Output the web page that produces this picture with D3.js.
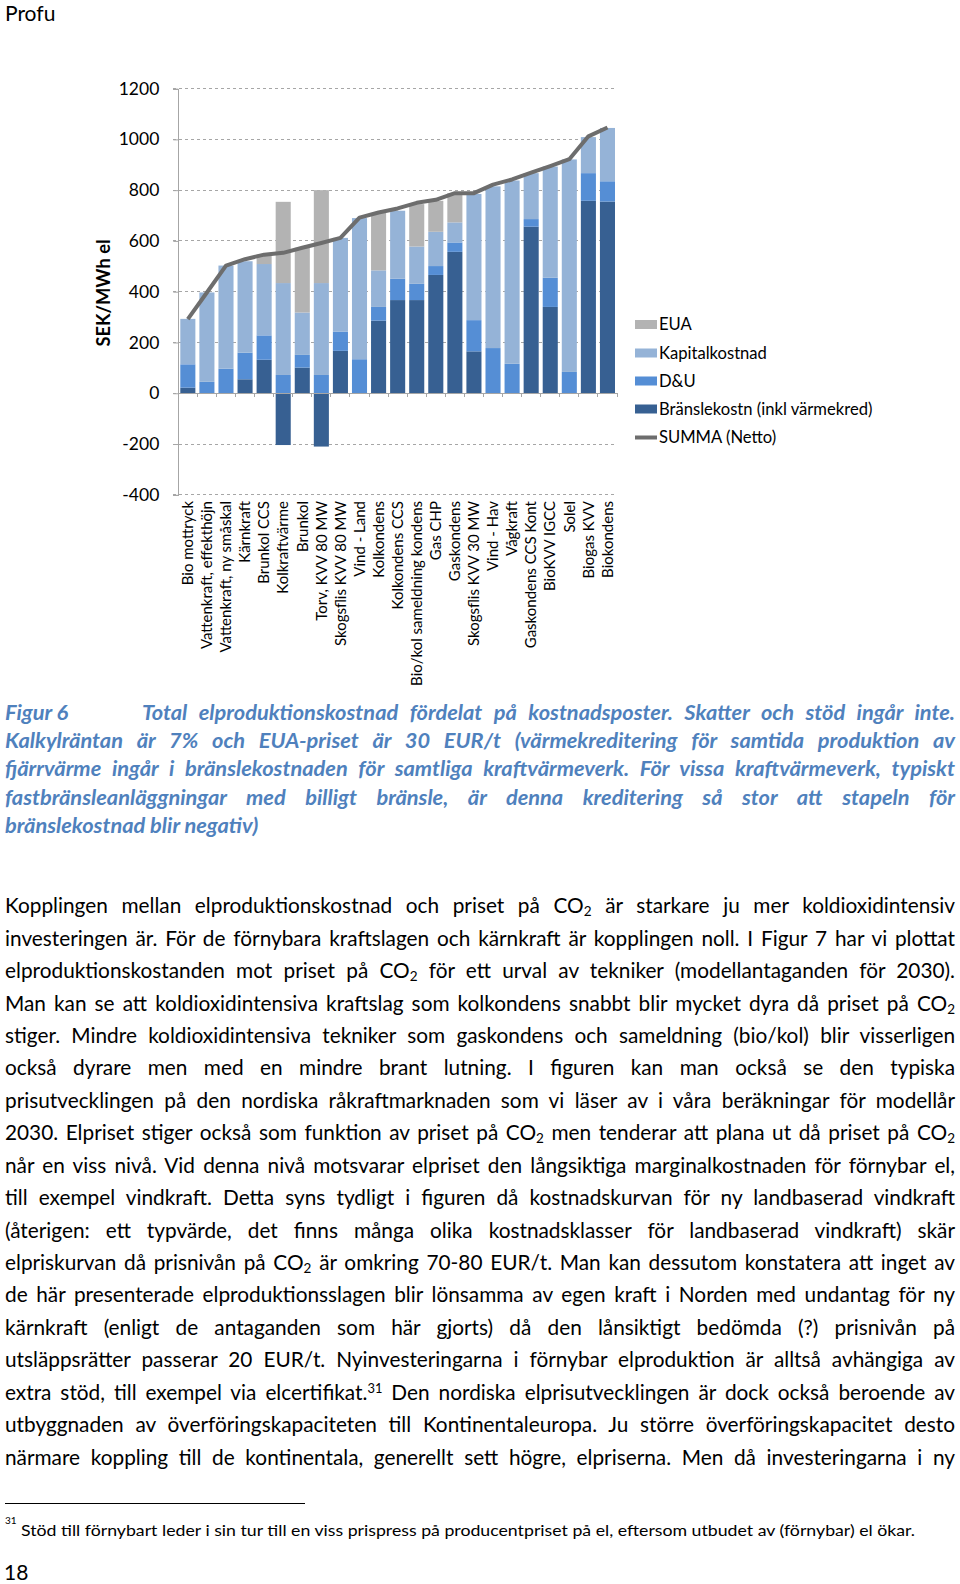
<!DOCTYPE html>
<html><head><meta charset="utf-8">
<script src="https://cdn.jsdelivr.net/npm/d3@7"></script>
<style>
html,body{margin:0;padding:0;background:#fff;}
body{width:960px;height:1584px;position:relative;overflow:hidden;font-family:Lato,"Open Sans",sans-serif;}
.abs{position:absolute;}
.jl{text-align:justify;text-align-last:justify;}
.cap{color:#4f81bd;font-weight:bold;font-style:italic;font-size:21.8px;line-height:28.05px;}
.body{color:#000;font-size:20.8px;line-height:32.45px;}
sub{font-size:0.65em;line-height:0;vertical-align:-0.25em;}
sup{font-size:0.62em;line-height:0;vertical-align:0.55em;}
</style></head>
<body>
<div class="abs" style="left:5px;top:0px;font-size:21px;line-height:26px;">Profu</div>
<svg id="chart" class="abs" style="left:0;top:0" width="960" height="700"></svg>
<div id="caption" class="abs cap" style="left:5px;top:698.4px;width:950px;"></div>
<div id="bodytext" class="abs body" style="left:5px;top:889.2px;width:950px;"></div>
<div class="abs" style="left:5px;top:1502.5px;width:300px;height:1px;background:#000;"></div>
<svg id="foot" class="abs" style="left:0;top:1510px" width="960" height="74"></svg>
<script>
// ---------------- data ----------------
const categories = ["Bio mottryck","Vattenkraft, effekthöjn","Vattenkraft, ny småskal","Kärnkraft","Brunkol CCS","Kolkraftvärme","Brunkol","Torv, KVV 80 MW","Skogsflis KVV 80 MW","Vind - Land","Kolkondens","Kolkondens CCS","Bio/kol sameldning kondens","Gas CHP","Gaskondens","Skogsflis KVV 30 MW","Vind - Hav","Vågkraft","Gaskondens CCS Kont","BioKVV IGCC","Solel","Biogas KVV","Biokondens"];
const bransle = [22, 0, 0, 55, 132, -204, 101, -210, 167, 0, 286, 367, 367, 466, 557, 165, 0, 0, 656, 340, 0, 758, 755];
const du = [92, 45, 97, 105, 96, 72, 50, 72, 76, 134, 54, 84, 64, 35, 37, 123, 178, 116, 30, 115, 84, 109, 80];
const kapital = [179, 352, 406, 360, 281, 362, 167, 362, 369, 556, 144, 268, 147, 135, 79, 497, 637, 722, 181, 438, 837, 142, 210];
const eua = [0, 0, 0, 0, 37, 320, 255, 366, 0, 0, 226, 0, 167, 122, 115, 0, 0, 0, 0, 0, 0, 0, 0];
const summa = [292, 397, 503, 528, 546, 553, 573, 592, 612, 692, 712, 728, 750, 762, 788, 788, 822, 842, 869, 895, 922, 1012, 1047];
const yTicks = [-400, -200, 0, 200, 400, 600, 800, 1000, 1200];
const seriesNames = ["EUA", "Kapitalkostnad", "D&U", "Bränslekostn (inkl värmekred)", "SUMMA (Netto)"];
const yTitle = "SEK/MWh el";

const colors = {eua:"#b3b3b3", kap:"#95b3d7", du:"#558ed5", fuel:"#376092", line:"#6d6d6d"};

// ---------------- chart ----------------
const svg = d3.select("#chart");
const x0 = 178.3, x1 = 617;
const x = d3.scaleBand().domain(categories).range([x0, x1]).paddingInner(0.21).paddingOuter(0.105);
const y = d3.scaleLinear().domain([-400, 1200]).range([494.8, 88.6]);

// gridlines
svg.append("g").selectAll("line").data(yTicks).join("line")
  .attr("x1", x0 - 5).attr("x2", x1).attr("y1", d => y(d)).attr("y2", d => y(d))
  .attr("stroke", "#a6a6a6").attr("stroke-width", 1).attr("stroke-dasharray", "3,3")
  .attr("shape-rendering", "crispEdges");

// y axis
const yAxis = svg.append("g").attr("transform", `translate(${x0},0)`)
  .call(d3.axisLeft(y).tickValues(yTicks).tickSize(5).tickPadding(14).tickFormat(d => String(d)));
yAxis.select(".domain").attr("stroke", "#a6a6a6").attr("shape-rendering","crispEdges");
yAxis.selectAll(".tick line").attr("stroke", "#a6a6a6");
yAxis.selectAll("text").attr("font-family", "Lato").attr("font-size", "17.5px").attr("fill", "#000");

// y title
svg.append("text").attr("transform", `translate(104,293) rotate(-90)`)
  .attr("text-anchor", "middle").attr("dy", "0.35em")
  .attr("font-family", "Lato").attr("font-weight", "bold").attr("font-size", "18.3px").text(yTitle);

// stacked bars
const segs = [];
categories.forEach((c, i) => {
  const f = bransle[i];
  segs.push({c, y0: Math.min(0, f), y1: Math.max(0, f), col: colors.fuel});
  let base = Math.max(0, f);
  [[du[i], colors.du], [kapital[i], colors.kap], [eua[i], colors.eua]].forEach(([v, col]) => {
    segs.push({c, y0: base, y1: base + v, col});
    base += v;
  });
});
svg.append("g").selectAll("rect").data(segs.filter(s => s.y1 > s.y0)).join("rect")
  .attr("x", d => x(d.c)).attr("width", x.bandwidth())
  .attr("y", d => y(d.y1)).attr("height", d => y(d.y0) - y(d.y1))
  .attr("fill", d => d.col);

// x axis at zero
const xAxis = svg.append("g").attr("transform", `translate(0,${y(0)})`);
xAxis.append("line").attr("x1", x0).attr("x2", x1).attr("stroke", "#a6a6a6").attr("shape-rendering","crispEdges");
const bounds = categories.map(c => x(c) - x.step() * x.paddingInner() / 2).concat([x1]);
xAxis.selectAll("line.t").data(bounds).join("line").attr("class","t")
  .attr("x1", d => d).attr("x2", d => d).attr("y1", 0).attr("y2", 4)
  .attr("stroke", "#a6a6a6").attr("shape-rendering","crispEdges");

// category labels
svg.append("g").selectAll("text").data(categories).join("text")
  .attr("transform", d => `translate(${x(d) + x.bandwidth()/2},501) rotate(-90)`)
  .attr("text-anchor", "end").attr("dy", "0.35em")
  .attr("font-family", "Lato").attr("font-size", "15px").attr("fill", "#000").text(d => d);

// summa line
const line = d3.line().x((d, i) => x(categories[i]) + x.bandwidth()/2).y(d => y(d));
svg.append("path").datum(summa).attr("d", line).attr("fill", "none")
  .attr("stroke", colors.line).attr("stroke-width", 4).attr("stroke-linejoin", "round");

// legend
const legCols = [colors.eua, colors.kap, colors.du, colors.fuel, colors.line];
const legY = [324.5, 353, 381, 409, 437.5];
const leg = svg.append("g");
seriesNames.forEach((n, i) => {
  if (i < 4) {
    leg.append("rect").attr("x", 635).attr("y", legY[i] - 4.5).attr("width", 22).attr("height", 9).attr("fill", legCols[i]);
  } else {
    leg.append("line").attr("x1", 635).attr("x2", 657).attr("y1", legY[i]).attr("y2", legY[i])
      .attr("stroke", legCols[i]).attr("stroke-width", 4);
  }
  leg.append("text").attr("x", 659).attr("y", legY[i]).attr("dy", "0.35em")
    .attr("font-family", "Lato").attr("font-size", "16.6px").text(n);
});

// ---------------- caption ----------------
const capLines = [
  "Total elproduktionskostnad fördelat på kostnadsposter. Skatter och stöd ingår inte.",
  "Kalkylräntan är 7% och EUA-priset är 30 EUR/t (värmekreditering för samtida produktion av",
  "fjärrvärme ingår i bränslekostnaden för samtliga kraftvärmeverk. För vissa kraftvärmeverk, typiskt",
  "fastbränsleanläggningar med billigt bränsle, är denna kreditering så stor att stapeln för",
  "bränslekostnad blir negativ)"
];
const cap = d3.select("#caption");
capLines.forEach((t, i) => {
  if (i === 0) {
    const r = cap.append("div").style("display", "flex").style("height","28.05px");
    r.append("span").style("width", "137px").style("flex", "none").text("Figur 6");
    r.append("div").attr("class", "jl").style("flex", "1").text(t);
  } else {
    cap.append("div").attr("class", i < capLines.length - 1 ? "jl" : "").style("height","28.05px").text(t);
  }
});

// ---------------- body text ----------------
const bodyLines = [
  "Kopplingen mellan elproduktionskostnad och priset på CO<sub>2</sub> är starkare ju mer koldioxidintensiv",
  "investeringen är. För de förnybara kraftslagen och kärnkraft är kopplingen noll. I Figur 7 har vi plottat",
  "elproduktionskostanden mot priset på CO<sub>2</sub> för ett urval av tekniker (modellantaganden för 2030).",
  "Man kan se att koldioxidintensiva kraftslag som kolkondens snabbt blir mycket dyra då priset på CO<sub>2</sub>",
  "stiger. Mindre koldioxidintensiva tekniker som gaskondens och sameldning (bio/kol) blir visserligen",
  "också dyrare men med en mindre brant lutning. I figuren kan man också se den typiska",
  "prisutvecklingen på den nordiska råkraftmarknaden som vi läser av i våra beräkningar för modellår",
  "2030. Elpriset stiger också som funktion av priset på CO<sub>2</sub> men tenderar att plana ut då priset på CO<sub>2</sub>",
  "når en viss nivå. Vid denna nivå motsvarar elpriset den långsiktiga marginalkostnaden för förnybar el,",
  "till exempel vindkraft. Detta syns tydligt i figuren då kostnadskurvan för ny landbaserad vindkraft",
  "(återigen: ett typvärde, det finns många olika kostnadsklasser för landbaserad vindkraft) skär",
  "elpriskurvan då prisnivån på CO<sub>2</sub> är omkring 70-80 EUR/t. Man kan dessutom konstatera att inget av",
  "de här presenterade elproduktionsslagen blir lönsamma av egen kraft i Norden med undantag för ny",
  "kärnkraft (enligt de antaganden som här gjorts) då den lånsiktigt bedömda (?) prisnivån på",
  "utsläppsrätter passerar 20 EUR/t. Nyinvesteringarna i förnybar elproduktion är alltså avhängiga av",
  "extra stöd, till exempel via elcertifikat.<sup>31</sup> Den nordiska elprisutvecklingen är dock också beroende av",
  "utbyggnaden av överföringskapaciteten till Kontinentaleuropa. Ju större överföringskapacitet desto",
  "närmare koppling till de kontinentala, generellt sett högre, elpriserna. Men då investeringarna i ny"
];
const bt = d3.select("#bodytext");
bodyLines.forEach(t => bt.append("div").attr("class", "jl").style("height", "32.45px").html(t));

// shrink any line that would wrap
function fit(sel, lh) {
  sel.each(function() {
    const el = this;
    el.style.height = "auto";
    let fs = parseFloat(getComputedStyle(el).fontSize);
    let guard = 0;
    while (el.getBoundingClientRect().height > lh * 1.5 && guard < 60) {
      fs -= 0.2; el.style.fontSize = fs + "px"; guard++;
    }
    el.style.height = lh + "px";
  });
}
fit(bt.selectAll("div"), 32.45);
fit(cap.selectAll(".jl"), 28.05);

// ---------------- footnote ----------------
const foot = d3.select("#foot");
foot.append("text").attr("x", 5).attr("y", 14).attr("font-family", "Lato").attr("font-size", "10px").text("31");
foot.append("text").attr("x", 21).attr("y", 25.5).attr("font-family", "Lato").attr("font-size", "16px")
  .attr("textLength", 894).attr("lengthAdjust", "spacingAndGlyphs")
  .text("Stöd till förnybart leder i sin tur till en viss prispress på producentpriset på el, eftersom utbudet av (förnybar) el ökar.");
foot.append("text").attr("x", 4).attr("y", 70).attr("font-family", "Lato").attr("font-size", "21px").text("18");
</script>
</body></html>
